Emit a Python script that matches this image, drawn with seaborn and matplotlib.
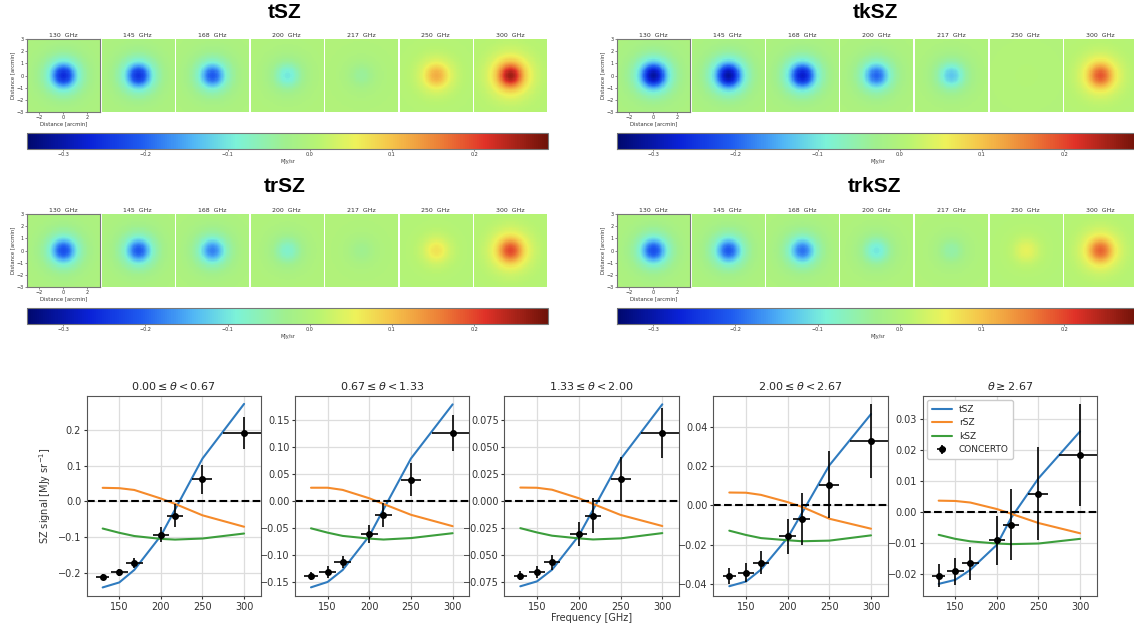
import numpy as np
import pandas as pd
import seaborn as sns
import matplotlib.pyplot as plt
from matplotlib.colors import LinearSegmentedColormap

# ---------------- data: maps ----------------
map_freqs = [130, 145, 168, 200, 217, 250, 300]
# normalised radial profile of the cluster signal (arcmin)
prof_r = [0.0, 0.25, 0.5, 0.75, 1.0, 1.25, 1.5, 2.0, 2.5, 3.0, 4.5]
prof_v = [1.0, 0.96, 0.85, 0.68, 0.5, 0.36, 0.26, 0.14, 0.08, 0.05, 0.02]
# central amplitude of each map [MJy/sr]
amp_tsz = [-0.26, -0.25, -0.21, -0.10, -0.04, 0.12, 0.26]
amp_tksz = [-0.31, -0.31, -0.28, -0.20, -0.13, 0.005, 0.19]
amp_trsz = [-0.22, -0.21, -0.18, -0.08, -0.03, 0.07, 0.20]
amp_trksz = [-0.22, -0.21, -0.19, -0.10, -0.05, 0.05, 0.18]

# ---------------- data: profiles per radial bin ----------------
nu = [130, 150, 168, 200, 217, 250, 300]
nu_err = [8, 10, 10, 10, 10, 12, 25]
bin_titles = [r"$0.00 \leq \theta < 0.67$", r"$0.67 \leq \theta < 1.33$",
              r"$1.33 \leq \theta < 2.00$", r"$2.00 \leq \theta < 2.67$",
              r"$\theta \geq 2.67$"]
tsz = [[-0.241, -0.227, -0.192, -0.096, -0.023, 0.120, 0.273],
       [-0.159, -0.149, -0.127, -0.064, -0.015, 0.079, 0.179],
       [-0.079, -0.0744, -0.0636, -0.032, -0.008, 0.039, 0.090],
       [-0.0413, -0.0389, -0.0328, -0.0165, -0.004, 0.0205, 0.0467],
       [-0.0231, -0.0218, -0.0186, -0.0105, -0.0019, 0.0109, 0.026]]
rsz = [[0.038, 0.037, 0.032, 0.008, -0.007, -0.039, -0.071],
       [0.025, 0.025, 0.021, 0.0055, -0.005, -0.025, -0.046],
       [0.0127, 0.0125, 0.0107, 0.0028, -0.0025, -0.0127, -0.023],
       [0.0066, 0.0065, 0.0054, 0.0017, -0.0007, -0.0068, -0.0119],
       [0.0037, 0.0036, 0.0031, 0.001, -0.0005, -0.0035, -0.0068]]
ksz = [[-0.076, -0.088, -0.097, -0.105, -0.107, -0.104, -0.090],
       [-0.050, -0.058, -0.064, -0.069, -0.0707, -0.068, -0.059],
       [-0.025, -0.029, -0.032, -0.0345, -0.0355, -0.0345, -0.0296],
       [-0.0129, -0.0151, -0.0167, -0.0178, -0.0183, -0.018, -0.0153],
       [-0.0073, -0.0086, -0.0094, -0.0101, -0.0103, -0.0101, -0.0086]]
concerto = [[-0.211, -0.199, -0.172, -0.093, -0.040, 0.062, 0.191],
            [-0.138, -0.131, -0.113, -0.061, -0.026, 0.040, 0.126],
            [-0.069, -0.0657, -0.0568, -0.0306, -0.0133, 0.0204, 0.0636],
            [-0.0362, -0.0343, -0.0294, -0.0158, -0.0068, 0.0107, 0.0331],
            [-0.0204, -0.0191, -0.0165, -0.0091, -0.004, 0.0059, 0.0183]]
concerto_err = [[0.0075, 0.009, 0.0145, 0.022, 0.032, 0.041, 0.045],
                [0.007, 0.011, 0.011, 0.017, 0.022, 0.030, 0.034],
                [0.004, 0.006, 0.007, 0.011, 0.016, 0.021, 0.023],
                [0.0042, 0.005, 0.0059, 0.0089, 0.0132, 0.017, 0.019],
                [0.0038, 0.0042, 0.0052, 0.008, 0.0115, 0.015, 0.0164]]
ylims = [(-0.265, 0.296), (-0.175, 0.195), (-0.088, 0.098),
         (-0.0463, 0.0561), (-0.027, 0.0375)]
yticks = [[-0.2, -0.1, 0.0, 0.1, 0.2],
          [-0.15, -0.10, -0.05, 0.0, 0.05, 0.10, 0.15],
          [-0.075, -0.05, -0.025, 0.0, 0.025, 0.05, 0.075],
          [-0.04, -0.02, 0.0, 0.02, 0.04],
          [-0.02, -0.01, 0.0, 0.01, 0.02, 0.03]]

sns.set_style("ticks")
plt.rcParams["font.family"] = ["DejaVu Sans"]

# softened jet, as it looks in the reference screenshot
soft_jet = LinearSegmentedColormap.from_list("soft_jet", [
    (0.00, "#00086e"), (0.12, "#0a22d8"), (0.22, "#1f5cf0"), (0.32, "#52b8f5"),
    (0.40, "#7cf2d8"), (0.50, "#a2f08c"), (0.56, "#b8f472"), (0.63, "#eef25a"),
    (0.70, "#f5c44a"), (0.80, "#ec7a36"), (0.88, "#e03228"), (1.00, "#6e1208")])

W, H = 1134, 624
fig = plt.figure(figsize=(W / 100, H / 100), dpi=100)


def box(x0, y0, x1, y1):
    return [x0 / W, 1 - y1 / H, (x1 - x0) / W, (y1 - y0) / H]


VMIN, VMAX = -0.344, 0.29
grid = np.linspace(-3, 3, 61)
X, Y = np.meshgrid(grid, grid)
R = np.sqrt(X ** 2 + Y ** 2)
shape = np.interp(R, prof_r, prof_v)

groups = [("tSZ", amp_tsz, 27, 0), ("tkSZ", amp_tksz, 617, 0),
          ("trSZ", amp_trsz, 27, 175), ("trkSZ", amp_trksz, 617, 175)]

for name, amps, gx, dy in groups:
    fig.text((gx + 258) / W, 1 - (12 + dy) / H, name, ha="center", va="center",
             fontsize=15, fontweight="bold", family="Liberation Sans", color="black")
    for i, (f, a) in enumerate(zip(map_freqs, amps)):
        x0 = gx + i * 74.5
        ax = fig.add_axes(box(x0, 39.3 + dy, x0 + 72.5, 111.7 + dy))
        im = ax.imshow(a * shape, cmap=soft_jet, vmin=VMIN, vmax=VMAX, origin="lower",
                       extent=[-3, 3, -3, 3], aspect="auto", interpolation="nearest")
        ax.set_title(f"{f}  GHz", fontsize=4.5, pad=2, color="#333333")
        if i == 0:
            ax.set_xticks([-2, 0, 2])
            ax.set_yticks([-3, -2, -1, 0, 1, 2, 3])
            ax.tick_params(labelsize=3.5, length=1.5, width=0.4, pad=1, colors="#333333")
            ax.set_xlabel("Distance [arcmin]", fontsize=3.8, labelpad=1, color="#333333")
            ax.set_ylabel("Distance [arcmin]", fontsize=3.8, labelpad=1, color="#333333")
            for s in ax.spines.values():
                s.set_color("#777777")
                s.set_linewidth(0.8)
        else:
            ax.axis("off")
    cax = fig.add_axes(box(gx, 133 + dy, gx + 521, 149 + dy))
    cb = fig.colorbar(im, cax=cax, orientation="horizontal",
                      ticks=[-0.3, -0.2, -0.1, 0.0, 0.1, 0.2])
    cb.ax.tick_params(labelsize=3.5, length=1.5, width=0.4, pad=1, colors="#333333")
    cb.set_label("MJy/sr", fontsize=3.5, labelpad=1, color="#333333")
    cb.outline.set_edgecolor("#777777")

# ---------------- bottom row ----------------
panel_x = [(86.7, 260.7), (295, 469.3), (504.3, 679), (713.3, 887.7), (922.7, 1096.7)]
palette = ["#2f7bbf", "#f58a2a", "#3c9e3c"]

for k in range(5):
    ax = fig.add_axes(box(panel_x[k][0], 395.7, panel_x[k][1], 596))
    df = pd.DataFrame({
        "nu": nu * 3,
        "val": tsz[k] + rsz[k] + ksz[k],
        "model": ["tSZ"] * 7 + ["rSZ"] * 7 + ["kSZ"] * 7,
    })
    sns.lineplot(data=df, x="nu", y="val", hue="model", palette=palette,
                 ax=ax, legend=False, linewidth=1.5)
    model_lines = list(ax.lines[:3])
    ax.axhline(0, color="k", ls="--", lw=1.5)
    eb = ax.errorbar(nu, concerto[k], yerr=concerto_err[k], xerr=nu_err, fmt="o",
                     color="k", ms=4, elinewidth=1.2, capsize=0)
    ax.set_xlim(110.8, 320)
    ax.set_ylim(*ylims[k])
    ax.set_xticks([150, 200, 250, 300])
    ax.set_yticks(yticks[k])
    ax.grid(True, color="#dddddd", lw=0.9)
    ax.set_axisbelow(True)
    ax.tick_params(labelsize=7, length=2, pad=2, colors="#333333")
    for s in ax.spines.values():
        s.set_color("#555555")
    ax.set_title(bin_titles[k], fontsize=8, pad=4)
    ax.set_xlabel("Frequency [GHz]" if k == 2 else "", fontsize=7, color="#333333", labelpad=1)
    ax.set_ylabel(r"SZ signal [MJy sr$^{-1}$]" if k == 0 else "", fontsize=7,
                  color="#333333", labelpad=3)
    if k == 4:
        ax.legend(handles=model_lines + [eb], labels=["tSZ", "rSZ", "kSZ", "CONCERTO"],
                  loc="upper left", fontsize=6.5, framealpha=1, borderpad=0.5,
                  handlelength=2.2)

fig.savefig("out.png", dpi=100)
